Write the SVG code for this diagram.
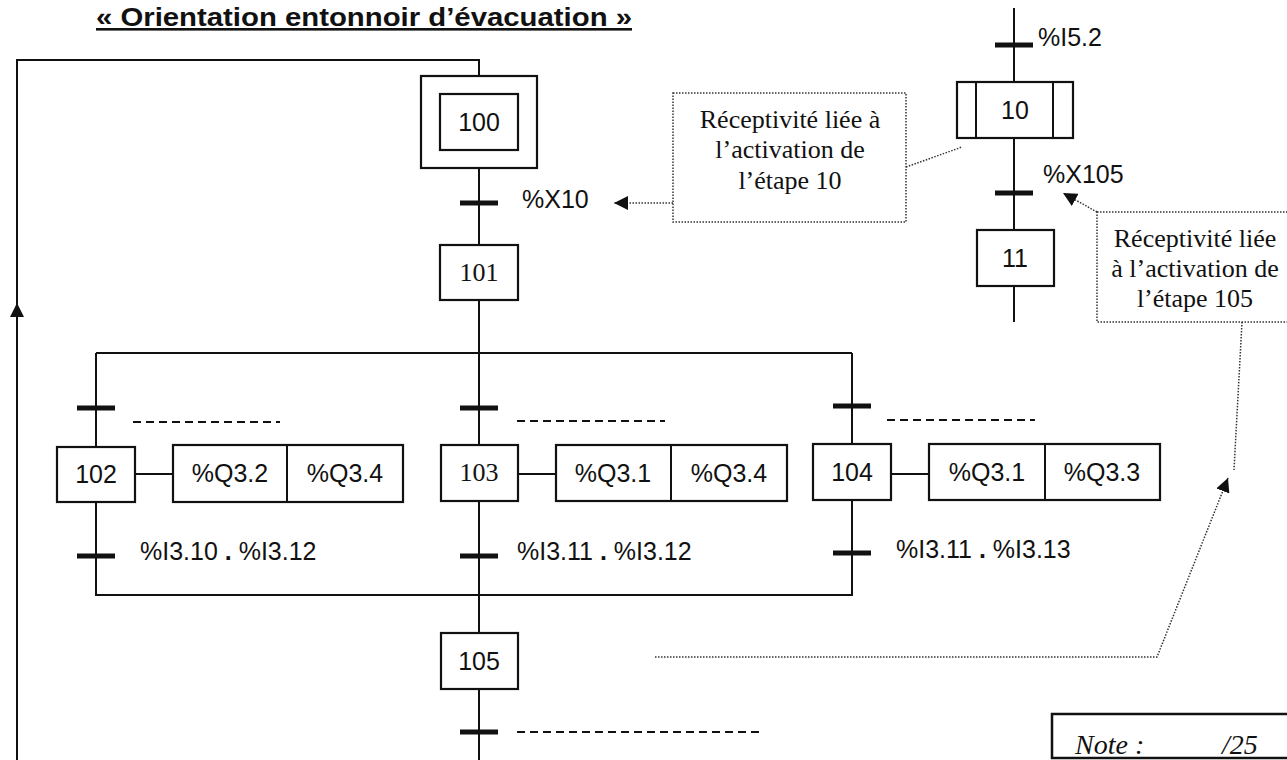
<svg xmlns="http://www.w3.org/2000/svg" width="1287" height="760" viewBox="0 0 1287 760">
<style>
.ln{fill:none;stroke:#111;stroke-width:2}
.box{fill:#fff;stroke:#111;stroke-width:2.2}
.bar{stroke:#111;stroke-width:5}
.dash{fill:none;stroke:#111;stroke-width:2;stroke-dasharray:8 5}
.dot{fill:none;stroke:#333;stroke-width:1.5;stroke-dasharray:1.5 1.5}
.sans{font-family:"Liberation Sans",Arial,sans-serif;font-size:25px;fill:#111}
.serif{font-family:"Liberation Serif","Times New Roman",serif;font-size:26px;fill:#111}
.mid{text-anchor:middle}
</style>
<defs>
<marker id="arr" viewBox="0 0 14 14" refX="14" refY="7" markerWidth="14" markerHeight="14" markerUnits="userSpaceOnUse" orient="auto">
<path d="M0,0 L14,7 L0,14 z" fill="#111"/>
</marker>
</defs>
<rect width="1287" height="760" fill="#fff"/>
<text x="96" y="26" font-family="'Liberation Sans',Arial,sans-serif" font-weight="bold" font-size="26" fill="#111" text-decoration="underline" textLength="536" lengthAdjust="spacingAndGlyphs">« Orientation entonnoir d’évacuation »</text>

<g id="connectors">
<path class="ln" d="M17,760 V303" marker-end="url(#arr)"/>
<path class="ln" d="M17,303 V60 H479 V76"/>
<path class="ln" d="M479,168 V245"/>
<path class="ln" d="M479,300 V445"/>
<path class="ln" d="M96,353 H852"/>
<path class="ln" d="M96,353 V447"/>
<path class="ln" d="M852,353 V444"/>
<path class="ln" d="M96,502 V595 H852 V500"/>
<path class="ln" d="M479,501 V633"/>
<path class="ln" d="M479,689 V760"/>
<path class="ln" d="M135,474 H173"/>
<path class="ln" d="M518,474 H556"/>
<path class="ln" d="M891,474 H929"/>
<path class="ln" d="M1014,8 V82"/>
<path class="ln" d="M1014,138 V230"/>
<path class="ln" d="M1014,286 V322"/>
<line class="bar" x1="460" y1="203" x2="498" y2="203"/>
<line class="bar" x1="77" y1="408" x2="115" y2="408"/>
<line class="bar" x1="460" y1="408" x2="498" y2="408"/>
<line class="bar" x1="833" y1="406" x2="871" y2="406"/>
<line class="bar" x1="77" y1="556" x2="115" y2="556"/>
<line class="bar" x1="460" y1="556" x2="498" y2="556"/>
<line class="bar" x1="833" y1="553" x2="871" y2="553"/>
<line class="bar" x1="460" y1="732" x2="498" y2="732"/>
<line class="bar" x1="995" y1="45" x2="1033" y2="45"/>
<line class="bar" x1="995" y1="193" x2="1033" y2="193"/>
<line class="dash" x1="133" y1="422" x2="280" y2="422"/>
<line class="dash" x1="517" y1="421" x2="665" y2="421"/>
<line class="dash" x1="887" y1="420" x2="1035" y2="420"/>
<line class="dash" x1="517" y1="732" x2="763" y2="732"/>
<path class="dot" d="M673,203 H614" marker-end="url(#arr)"/>
<path class="dot" d="M906,167 L962,147"/>
<path class="dot" d="M1097,212 L1063,193" marker-end="url(#arr)"/>
<path class="dot" d="M1242,322 L1234,470"/>
<path class="dot" d="M655,657 H1157 L1228,478" marker-end="url(#arr)"/>
</g>

<g id="step100">
<rect class="box" x="421" y="76" width="116" height="92"/>
<rect class="box" x="440" y="94" width="78" height="56"/>
<text class="sans mid" x="479" y="131">100</text>
</g>
<g id="t100"><text class="sans" x="522" y="208">%X10</text></g>
<g id="step101">
<rect class="box" x="440" y="245" width="78" height="55"/>
<text class="serif mid" x="479" y="281">101</text>
</g>
<g id="step102">
<rect class="box" x="57" y="447" width="78" height="55"/>
<text class="sans mid" x="96" y="483">102</text>
</g>
<g id="action102">
<rect class="box" x="173" y="445" width="230" height="57"/>
<line class="ln" x1="287" y1="445" x2="287" y2="502"/>
<text class="sans mid" x="230" y="482">%Q3.2</text>
<text class="sans mid" x="345" y="482">%Q3.4</text>
</g>
<g id="step103">
<rect class="box" x="441" y="445" width="77" height="56"/>
<text class="serif mid" x="479" y="481">103</text>
</g>
<g id="action103">
<rect class="box" x="556" y="445" width="231" height="56"/>
<line class="ln" x1="671" y1="445" x2="671" y2="501"/>
<text class="sans mid" x="613" y="482">%Q3.1</text>
<text class="sans mid" x="729" y="482">%Q3.4</text>
</g>
<g id="step104">
<rect class="box" x="813" y="444" width="78" height="56"/>
<text class="sans mid" x="852" y="481">104</text>
</g>
<g id="action104">
<rect class="box" x="929" y="444" width="231" height="56"/>
<line class="ln" x1="1045" y1="444" x2="1045" y2="500"/>
<text class="sans mid" x="987" y="481">%Q3.1</text>
<text class="sans mid" x="1102" y="481">%Q3.3</text>
</g>
<g id="cond102"><text class="sans" x="140" y="560">%I3.10 <tspan font-weight="bold">.</tspan> %I3.12</text></g>
<g id="cond103"><text class="sans" x="517" y="560">%I3.11 <tspan font-weight="bold">.</tspan> %I3.12</text></g>
<g id="cond104"><text class="sans" x="896" y="558">%I3.11 <tspan font-weight="bold">.</tspan> %I3.13</text></g>
<g id="step105">
<rect class="box" x="441" y="633" width="77" height="56"/>
<text class="sans mid" x="479" y="670">105</text>
</g>

<g id="t1"><text class="sans" x="1038" y="46">%I5.2</text></g>
<g id="step10">
<rect class="box" x="957" y="82" width="116" height="56"/>
<line class="ln" x1="976" y1="82" x2="976" y2="138"/>
<line class="ln" x1="1053" y1="82" x2="1053" y2="138"/>
<text class="sans mid" x="1015" y="119">10</text>
</g>
<g id="t10"><text class="sans" x="1043" y="183">%X105</text></g>
<g id="step11">
<rect class="box" x="977" y="230" width="77" height="56"/>
<text class="sans mid" x="1015" y="267">11</text>
</g>

<g id="callout1">
<rect class="dot" x="673" y="93" width="233" height="129"/>
<text class="serif mid" x="790" y="128">Réceptivité liée à</text>
<text class="serif mid" x="790" y="158">l’activation de</text>
<text class="serif mid" x="790" y="189">l’étape 10</text>
</g>
<g id="callout2">
<rect class="dot" x="1097" y="212" width="210" height="110"/>
<text class="serif mid" x="1195" y="247">Réceptivité liée</text>
<text class="serif mid" x="1195" y="277">à l’activation de</text>
<text class="serif mid" x="1195" y="307">l’étape 105</text>
</g>
<g id="note">
<rect x="1052" y="714" width="260" height="44" fill="#fff" stroke="#111" stroke-width="2.5"/>
<text x="1075" y="754" font-family="'Liberation Serif','Times New Roman',serif" font-style="italic" font-size="28" fill="#111">Note :</text>
<text x="1222" y="754" font-family="'Liberation Serif','Times New Roman',serif" font-style="italic" font-size="28" fill="#111">/25</text>
</g>
</svg>
